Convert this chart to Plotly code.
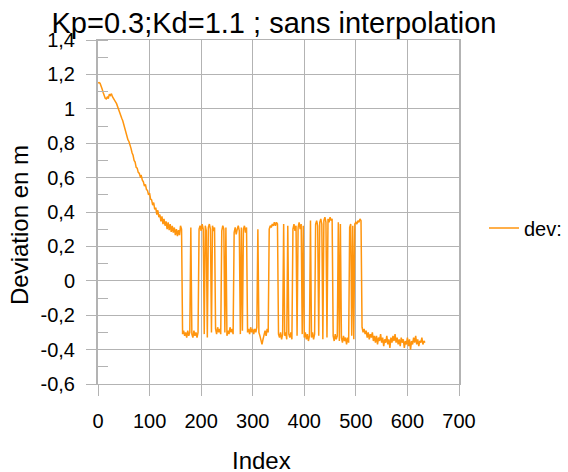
import plotly.graph_objects as go

# Deviation values, one sample every 2 indices
dev_descent = [
    1.150, 1.152, 1.148, 1.135, 1.115, 1.095, 1.075, 1.062, 1.058, 1.068,
    1.060, 1.085, 1.078, 1.088, 1.070, 1.062, 1.050, 1.040, 1.030, 1.010,
    1.000, 0.975, 0.965, 0.945, 0.930, 0.905, 0.880, 0.870, 0.845, 0.820,
    0.810, 0.795, 0.770, 0.745, 0.730, 0.700, 0.690, 0.660, 0.655, 0.630,
    0.625, 0.605, 0.610, 0.585, 0.575, 0.550, 0.560, 0.530, 0.525, 0.500,
    0.510, 0.475, 0.470, 0.440, 0.455, 0.415, 0.425, 0.385, 0.410, 0.370,
    0.385, 0.345, 0.375, 0.330, 0.360, 0.320, 0.345, 0.300, 0.340, 0.295,
    0.330, 0.285, 0.320, 0.280, 0.310, 0.265, 0.300, 0.260, 0.295, 0.265,
    0.320, 0.300,
]
dev_switching = [
    -0.31, -0.29, -0.32, -0.30, -0.33, -0.29, -0.32, -0.30, 0.31, -0.31,
    -0.33, -0.29, -0.32, -0.30, -0.33, -0.30, 0.30, 0.32, 0.29, 0.33,
    0.30, -0.31, 0.32, 0.29, -0.33, 0.31, 0.33, 0.30, -0.30, 0.32,
    0.29, 0.31, -0.28, -0.31, -0.27, -0.30, -0.28, -0.31, 0.29, 0.32,
    0.30, -0.30, 0.31, -0.32, -0.29, -0.31, -0.27, -0.30, -0.28, -0.31,
    0.28, 0.31, 0.27, 0.30, 0.32, 0.29, -0.31, 0.31, -0.29, 0.30,
    0.32, 0.28, 0.31, -0.30, -0.28, -0.31, -0.27, -0.30, -0.28, -0.31,
    -0.28, -0.30, -0.27, 0.30, -0.30, -0.32, -0.35, -0.37, -0.34, -0.31,
    -0.29, -0.32, -0.28, -0.30, 0.30, 0.32, 0.31, 0.33, 0.32, 0.34,
    0.32, 0.34, 0.33, -0.31, -0.33, -0.30, -0.34, -0.31, 0.33, -0.32,
    -0.30, -0.34, 0.32, -0.31, -0.33, -0.30, -0.34, 0.30, 0.33, 0.29,
    0.32, -0.32, 0.31, 0.34, 0.30, 0.33, -0.31, 0.32, -0.33, -0.30,
    -0.34, -0.31, -0.35, -0.32, 0.35, -0.33, -0.30, -0.34, -0.31, 0.33,
    0.35, 0.32, -0.32, 0.34, 0.36, 0.33, -0.34, 0.35, 0.37, 0.34,
    -0.33, 0.36, 0.34, 0.37, 0.35, 0.36, -0.32, -0.35, -0.31, -0.34,
    -0.32, 0.34, -0.35, 0.33, -0.33, -0.36, -0.32, -0.35, -0.33, -0.37,
    -0.33, -0.36, 0.31, 0.33, -0.32, 0.32, -0.34, 0.33, 0.34, 0.33,
    0.35, 0.34, 0.36, 0.35,
]
dev_tail = [
    -0.27, -0.30, -0.28, -0.31, -0.29, -0.33, -0.30, -0.34, -0.31, -0.33,
    -0.30, -0.35, -0.32, -0.36, -0.32, -0.37, -0.33, -0.35, -0.31, -0.36,
    -0.33, -0.38, -0.34, -0.36, -0.32, -0.37, -0.34, -0.39, -0.33, -0.36,
    -0.32, -0.35, -0.31, -0.36, -0.33, -0.37, -0.34, -0.38, -0.33, -0.36,
    -0.34, -0.39, -0.35, -0.37, -0.33, -0.38, -0.34, -0.40, -0.35, -0.37,
    -0.33, -0.36, -0.32, -0.37, -0.34, -0.38, -0.35, -0.36, -0.33, -0.37,
    -0.35, -0.36,
]
dev = dev_descent + dev_switching + dev_tail
index = list(range(0, 2 * len(dev), 2))

y_tickvals = [1.4, 1.2, 1.0, 0.8, 0.6, 0.4, 0.2, 0.0, -0.2, -0.4, -0.6]
y_ticktext = ["1,4", "1,2", "1", "0,8", "0,6", "0,4", "0,2", "0",
              "-0,2", "-0,4", "-0,6"]
x_tickvals = [0, 100, 200, 300, 400, 500, 600, 700]

title_text = "Kp=0.3;Kd=1.1 ; sans interpolation"
font_family = "Liberation Sans, Arial, sans-serif"
grid = "#b3b3b3"

L, R, T, B = 98, 109, 40, 88
W, H = 568, 472
pw, ph = W - L - R, H - T - B


def px_x(x):
    return (x - L) / pw


def px_y(y):
    return (H - B - y) / ph


fig = go.Figure()
fig.add_trace(go.Scatter(
    x=index, y=dev, mode="lines", name="dev:",
    line=dict(color="#ff950e", width=1.5),
))

fig.update_layout(
    width=W, height=H,
    margin=dict(l=L, r=R, t=T, b=B, autoexpand=False),
    paper_bgcolor="white", plot_bgcolor="white",
    font=dict(family=font_family, color="black", size=20),
    title=dict(text=title_text, x=274 / W, xanchor="center",
               y=1 - 23 / H, yanchor="middle", yref="container",
               font=dict(size=29, color="black", family=font_family)),
    showlegend=True,
    legend=dict(x=px_x(484), y=px_y(228), xanchor="left", yanchor="middle",
                font=dict(size=20), bgcolor="rgba(0,0,0,0)", borderwidth=0,
                itemwidth=30),
    annotations=[
        dict(text="Index", x=px_x(261), y=px_y(460), xref="paper", yref="paper",
             showarrow=False, font=dict(size=24), xanchor="center", yanchor="middle"),
        dict(text="Deviation en m", x=px_x(19), y=px_y(225), xref="paper", yref="paper",
             showarrow=False, font=dict(size=24), textangle=-90,
             xanchor="center", yanchor="middle"),
    ],
)

fig.update_xaxes(
    range=[0, 700], tickvals=x_tickvals, showgrid=True, gridcolor=grid, gridwidth=1,
    showline=True, linecolor=grid, linewidth=1, mirror=True,
    ticks="outside", ticklen=11, tickcolor=grid, ticklabelstandoff=8,
    zeroline=False, tickfont=dict(size=20),
)
fig.update_yaxes(
    range=[-0.6, 1.4], tickvals=y_tickvals, ticktext=y_ticktext,
    showgrid=True, gridcolor=grid, gridwidth=1,
    showline=True, linecolor=grid, linewidth=2, mirror=True,
    ticks="outside", ticklen=10, tickcolor=grid, ticklabelstandoff=7,
    zeroline=False, tickfont=dict(size=20),
    minor=dict(dtick=0.1, tick0=0, ticks="inside", ticklen=10, tickcolor=grid, showgrid=False),
)

fig.write_html("out.html")
